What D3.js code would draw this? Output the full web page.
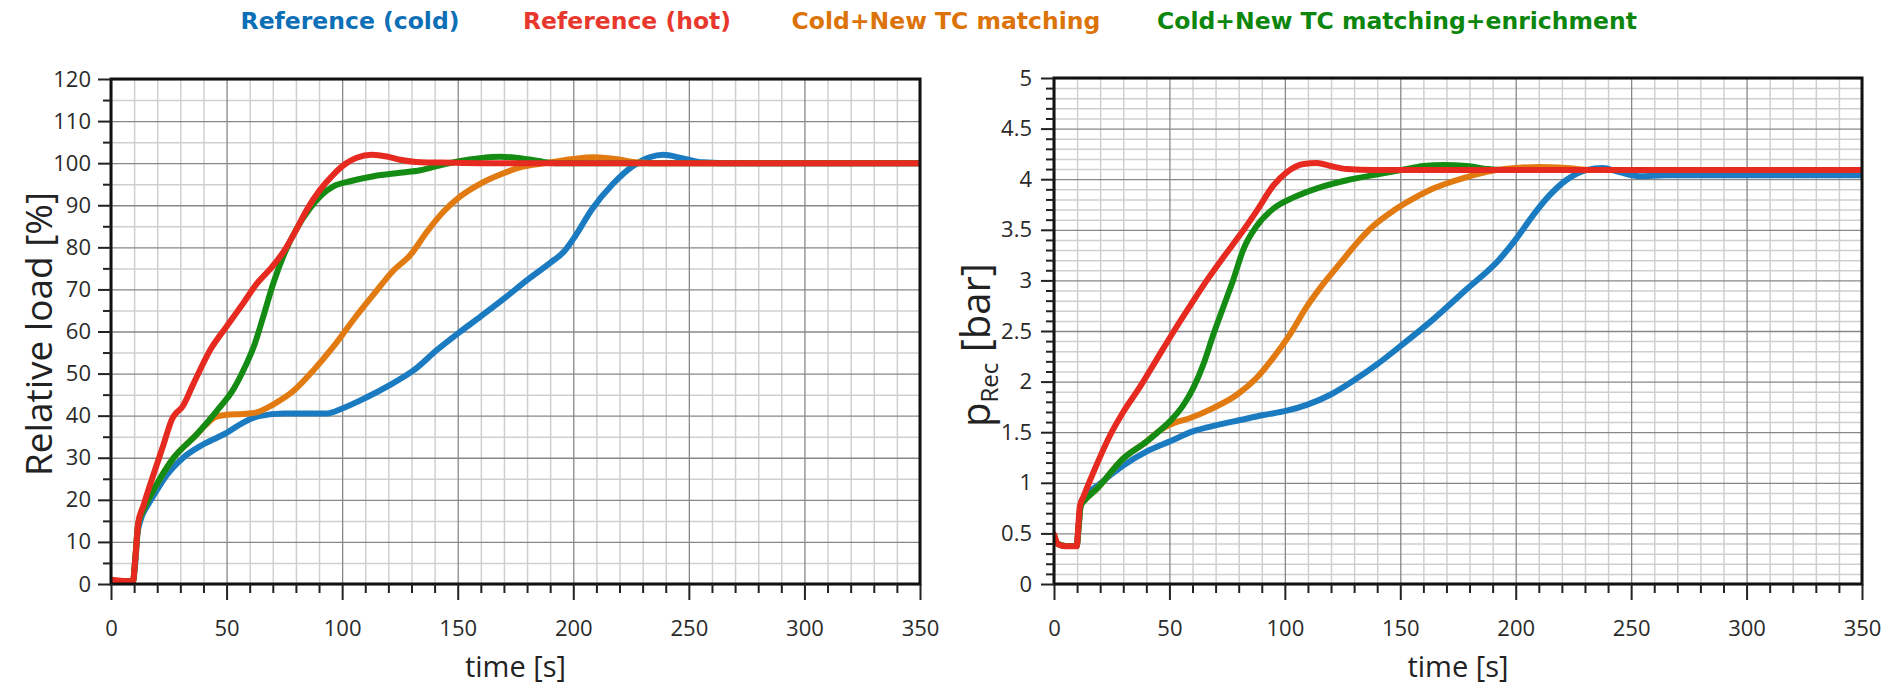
<!DOCTYPE html>
<html>
<head>
<meta charset="utf-8">
<script src="https://cdn.jsdelivr.net/npm/d3@7/dist/d3.min.js"></script>
<style>
  html, body { margin: 0; padding: 0; background: #ffffff; }
  svg { display: block; }
</style>
</head>
<body>
<svg id="chart" width="1899" height="693"></svg>
<script>
// ---- series meta ----
const seriesNames  = ["Reference (cold)", "Reference (hot)", "Cold+New TC matching", "Cold+New TC matching+enrichment"];
const lineColors   = ["#1b7bc0", "#e62a20", "#e27a12", "#148c14"];
const legendColors = ["#0d6fb6", "#e8372c", "#dc7309", "#0c860c"];
const drawOrder    = [0, 2, 3, 1];   // hot run on top

// ---- axis ticks ----
const timeTicks      = [0, 50, 100, 150, 200, 250, 300, 350];
const loadTicks      = [0, 10, 20, 30, 40, 50, 60, 70, 80, 90, 100, 110, 120];
const pressureTicks  = [0, 0.5, 1, 1.5, 2, 2.5, 3, 3.5, 4, 4.5, 5];
const pressureLabels = ["0", "0.5", "1", "1.5", "2", "2.5", "3", "3.5", "4", "4.5", "5"];

// ---- relative load [%] vs time [s] ----
const loadCold = [[0,0.8],[9.5,0.6],[10.5,5],[11.5,12],[13,15.5],[16,18.8],[18.3,20.9],[24,25.8],[31,29.9],[40,33.2],[50,35.9],[57,38.3],[64,39.9],[75,40.5],[93,40.5],[100,41.7],[110,44.2],[120,47.1],[131,50.8],[141,55.6],[150,59.5],[160,63.6],[170,67.8],[180,72.2],[190,76.3],[196,79],[201,82.8],[208,89],[217,95],[226,99.4],[233,101.4],[239,102],[247,101.2],[256,100.2],[265,100],[350,100]];
const loadHot = [[0,1],[9.5,0.6],[10.5,6],[11.8,14.6],[14,18.6],[18.3,25.9],[22.7,33.1],[26.7,39.5],[28.5,40.8],[30.6,41.9],[35.6,47.5],[42.9,55.6],[50,61.2],[57.3,66.8],[63,71.3],[69.6,75.3],[74.6,78.9],[79.7,83.7],[84.7,88.9],[90.5,93.7],[96.2,97.3],[101.3,99.8],[106.3,101.3],[112.8,102],[119.3,101.6],[125,100.8],[132,100.3],[147,100.1],[160,100],[350,100]];
const loadNewTC = [[0,0.8],[9.5,0.6],[10.5,6],[11.8,14.4],[14,17.6],[18.3,22.2],[27,29.9],[37,35.5],[41,37.8],[45,39.6],[50,40.2],[57,40.4],[63,40.8],[70.3,42.7],[79,45.9],[87.6,50.8],[96.2,56.4],[104.9,62.8],[113.6,68.8],[122.2,74.5],[129.4,78.1],[136.7,83.7],[143.9,88.5],[151.1,92.1],[159.7,95.1],[168.4,97.3],[177,99],[185,99.8],[190,100.2],[200,101],[209,101.4],[218,101],[227,100.2],[235,100],[350,100]];
const loadEnrich = [[0,0.8],[9.5,0.6],[10.5,6],[11.8,14.4],[14,17.6],[18.3,22.2],[27,29.9],[37,35.5],[45.7,41.1],[53,46.3],[58,51.6],[62.3,57.2],[65.9,63.6],[70.3,71.6],[75.3,78.9],[80.4,84.5],[86.1,89.3],[91.2,92.5],[96.2,94.5],[103.5,95.7],[113.6,96.9],[125,97.7],[133.8,98.3],[142.4,99.5],[150,100.4],[159.7,101.2],[168.4,101.5],[177,101.2],[185,100.5],[192,100],[350,100]];

// ---- receiver pressure p_Rec [bar] vs time [s] ----
const presCold = [[0,0.48],[1.5,0.4],[5,0.375],[9.8,0.375],[10.8,0.6],[11.5,0.76],[13,0.84],[19.9,0.99],[30,1.17],[40.2,1.31],[50.3,1.41],[60.4,1.51],[70.5,1.57],[80.6,1.62],[90.8,1.67],[100.4,1.71],[109.5,1.77],[119.7,1.87],[129.8,2.01],[139.9,2.17],[150,2.35],[164,2.61],[178.6,2.91],[193,3.21],[200.2,3.41],[207.4,3.64],[214.6,3.84],[221.8,3.99],[230.5,4.09],[237.7,4.11],[244.9,4.07],[253.6,4.03],[265,4.04],[350,4.04]];
const presHot = [[0,0.49],[1.9,0.39],[5,0.373],[9.8,0.373],[10.6,0.6],[11.2,0.77],[12.7,0.86],[18.5,1.18],[24.3,1.47],[30,1.7],[37.3,1.95],[44.5,2.22],[51.7,2.49],[59,2.75],[66.2,3.0],[73.4,3.23],[80.6,3.45],[87.9,3.69],[95.1,3.94],[100.9,4.07],[108.1,4.15],[113.9,4.16],[119.7,4.13],[126.9,4.1],[138.4,4.09],[350,4.09]];
const presNewTC = [[0,0.48],[1.5,0.4],[5,0.375],[9.8,0.375],[10.8,0.6],[11.5,0.77],[13,0.82],[18.5,0.94],[30,1.24],[40.2,1.41],[46,1.52],[52,1.59],[59,1.64],[69.1,1.74],[79.2,1.87],[87.9,2.04],[95.1,2.24],[102.3,2.47],[109.5,2.74],[116.8,2.97],[124,3.17],[131.2,3.37],[138.4,3.54],[147.1,3.69],[155.8,3.81],[164.5,3.91],[173.1,3.98],[180.3,4.03],[187,4.07],[195,4.1],[210,4.12],[222,4.11],[233,4.09],[350,4.09]];
const presEnrich = [[0,0.48],[1.5,0.4],[5,0.375],[9.8,0.375],[10.8,0.6],[11.5,0.77],[13,0.82],[18.5,0.94],[30,1.24],[40.2,1.41],[46,1.52],[50.3,1.61],[56.1,1.77],[60.4,1.94],[64.7,2.17],[69.1,2.47],[73.4,2.74],[77.7,3.01],[82.1,3.31],[87.9,3.54],[95.1,3.71],[103.8,3.82],[113.9,3.91],[126.9,3.99],[138.4,4.04],[150.3,4.09],[160.1,4.13],[168.8,4.14],[178.9,4.13],[188,4.1],[195,4.09],[350,4.09]];

const svg = d3.select("#chart");
svg.append("rect").attr("width", 1899).attr("height", 693).attr("fill", "#ffffff");

const tickFont = "'Open Sans', 'Noto Sans', sans-serif";

function drawPanel(cfg) {
  const x = d3.scaleLinear().domain([0, 350]).range([cfg.left, cfg.right]);
  const y = d3.scaleLinear().domain(cfg.yDomain).range([cfg.bottom, cfg.top]);
  const w = cfg.right - cfg.left, h = cfg.bottom - cfg.top;
  const g = svg.append("g");

  const xMinor = d3.range(0, 351, 10).filter(d => d % 50 !== 0);
  const yMinor = cfg.yMinor.filter(d => !cfg.yTicks.some(t => Math.abs(t - d) < 1e-9));

  // grid: light minor lines, darker major lines
  const gridLayer = (axis, tx, ty) => {
    const a = g.append("g").attr("transform", `translate(${tx},${ty})`).call(axis);
    a.select(".domain").remove();
    a.selectAll("text").remove();
    return a;
  };
  gridLayer(d3.axisBottom(x).tickValues(xMinor).tickSize(-h), 0, cfg.bottom)
    .selectAll("line").attr("stroke", "#cfcfcf").attr("stroke-width", 1.5);
  gridLayer(d3.axisLeft(y).tickValues(yMinor).tickSize(-w), cfg.left, 0)
    .selectAll("line").attr("stroke", "#cfcfcf").attr("stroke-width", 1.5);
  gridLayer(d3.axisBottom(x).tickValues(timeTicks).tickSize(-h), 0, cfg.bottom)
    .selectAll("line").attr("stroke", "#888888").attr("stroke-width", 1.3);
  gridLayer(d3.axisLeft(y).tickValues(cfg.yTicks).tickSize(-w), cfg.left, 0)
    .selectAll("line").attr("stroke", "#888888").attr("stroke-width", 1.3);

  // curves
  const line = d3.line().x(d => x(d[0])).y(d => y(d[1])).curve(d3.curveMonotoneX);
  g.append("defs").append("clipPath").attr("id", cfg.id + "-clip")
    .append("rect").attr("x", cfg.left).attr("y", cfg.top - 4).attr("width", w).attr("height", h + 4);
  const lines = g.append("g").attr("clip-path", `url(#${cfg.id}-clip)`);
  drawOrder.forEach(i => {
    lines.append("path")
      .datum(cfg.series[i])
      .attr("d", line)
      .attr("fill", "none")
      .attr("stroke", lineColors[i])
      .attr("stroke-width", 6)
      .attr("stroke-linejoin", "round")
      .attr("stroke-linecap", "round");
  });

  // frame
  g.append("rect").attr("x", cfg.left).attr("y", cfg.top).attr("width", w).attr("height", h)
    .attr("fill", "none").attr("stroke", "#111").attr("stroke-width", 3);

  // x ticks and labels
  const xMaj = g.append("g").attr("transform", `translate(0,${cfg.bottom})`)
    .call(d3.axisBottom(x).tickValues(timeTicks).tickSize(16).tickPadding(20).tickFormat(d3.format("d")));
  const xMin = g.append("g").attr("transform", `translate(0,${cfg.bottom})`)
    .call(d3.axisBottom(x).tickValues(xMinor).tickSize(9).tickFormat(""));
  // y ticks and labels
  const yMaj = g.append("g").attr("transform", `translate(${cfg.left},0)`)
    .call(d3.axisLeft(y).tickValues(cfg.yTicks).tickSize(13).tickPadding(cfg.yPad)
      .tickFormat((d, i) => cfg.yLabels[i]));
  const yMin = g.append("g").attr("transform", `translate(${cfg.left},0)`)
    .call(d3.axisLeft(y).tickValues(yMinor).tickSize(8).tickFormat(""));

  [xMaj, xMin, yMaj, yMin].forEach(a => {
    a.select(".domain").remove();
    a.selectAll("line").attr("stroke", "#222").attr("stroke-width", 2);
    a.selectAll("text").attr("fill", "#2a2a2a").style("font-family", tickFont).style("font-size", "22px");
  });

  // x title
  g.append("text")
    .attr("x", (cfg.left + cfg.right) / 2).attr("y", 677)
    .attr("text-anchor", "middle")
    .style("font-family", tickFont).style("font-size", "29px").attr("fill", "#222")
    .text("time [s]");

  return { x, y };
}

drawPanel({
  id: "load", left: 111, right: 920, top: 79, bottom: 584,
  yDomain: [0, 120], yTicks: loadTicks, yLabels: loadTicks.map(String),
  yMinor: d3.range(0, 121, 5), yPad: 7,
  series: [loadCold, loadHot, loadNewTC, loadEnrich]
});

drawPanel({
  id: "pres", left: 1054, right: 1862, top: 78, bottom: 584,
  yDomain: [0, 5], yTicks: pressureTicks, yLabels: pressureLabels,
  yMinor: d3.range(0, 51, 1).map(d => d / 10), yPad: 9,
  series: [presCold, presHot, presNewTC, presEnrich]
});

// y titles
svg.append("text")
  .attr("transform", "translate(52,334) rotate(-90)")
  .attr("text-anchor", "middle")
  .style("font-family", tickFont).style("font-size", "37px").attr("fill", "#222")
  .text("Relative load [%]");

const pt = svg.append("text")
  .attr("transform", "translate(990,345) rotate(-90)")
  .attr("text-anchor", "middle")
  .style("font-family", tickFont).style("font-size", "40px").attr("fill", "#222");
pt.append("tspan").text("p");
pt.append("tspan").attr("dy", 8).style("font-size", "24px").text("Rec");
pt.append("tspan").attr("dy", -8).text(" [bar]");

// legend
const legendCenters = [350, 627, 946, 1397];
svg.append("g").selectAll("text").data(seriesNames).join("text")
  .attr("x", (d, i) => legendCenters[i]).attr("y", 29)
  .attr("text-anchor", "middle")
  .style("font-family", "'DejaVu Sans', sans-serif").style("font-weight", "bold").style("font-size", "23.5px")
  .attr("fill", (d, i) => legendColors[i])
  .text(d => d);
</script>
</body>
</html>
